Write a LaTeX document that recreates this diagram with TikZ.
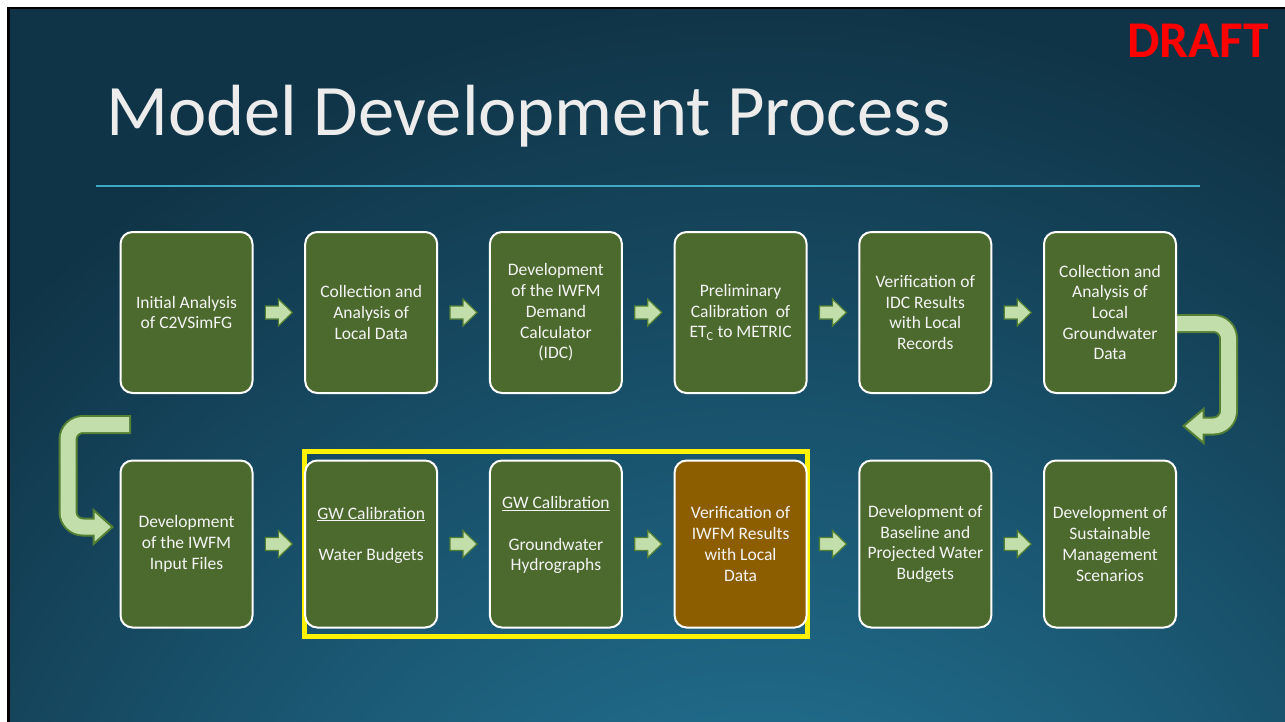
\documentclass[tikz,border=0pt]{standalone}
\usepackage{fontspec}
\setmainfont{Carlito}
\usetikzlibrary{calc,fit}

\definecolor{slidedark}{RGB}{16,52,71}
\definecolor{slidelight}{RGB}{38,128,164}
\definecolor{boxgreen}{RGB}{76,106,46}
\definecolor{boxbrown}{RGB}{140,94,0}
\definecolor{arrowfill}{RGB}{194,222,171}
\definecolor{arrowline}{RGB}{84,128,52}
\definecolor{ruleteal}{RGB}{64,168,194}
\definecolor{titlegray}{RGB}{236,236,236}
\definecolor{draftred}{RGB}{255,0,0}
\definecolor{boxtext}{RGB}{244,244,244}

\pgfdeclarelayer{bg}
\pgfdeclarelayer{back}
\pgfsetlayers{bg,back,main}

\tikzset{
  stepbox/.style={draw=white, line width=2pt, rounded corners=12pt, fill=boxgreen,
    minimum width=132pt, minimum height=161pt, text=boxtext, align=center,
    font=\fontsize{17.5}{20.7}\selectfont, inner sep=0pt},
  lowbox/.style={stepbox, minimum height=167pt},
  nextarrow/.style={fill=arrowfill, draw=arrowline, line width=1.2pt, line join=miter},
  bendedge/.style={arrowline, line width=19pt, rounded corners=15pt},
  bendbody/.style={arrowfill, line width=15pt, rounded corners=15pt},
  bendhead/.style={fill=arrowfill, draw=arrowline, line width=2pt, line join=miter},
}

\begin{document}
\begin{tikzpicture}[x=1pt, y=-1pt]
\useasboundingbox (0,0) rectangle (1285,721);

% slide background and frame
\begin{pgfonlayer}{bg}
  \fill[white] (0,0) rectangle (1285,721);
  \begin{scope}
    \clip (9,8) rectangle (1285,721);
    \fill[slidedark] (9,8) rectangle (1285,721);
    \shade[inner color=slidelight, outer color=slidedark] (760,1050) circle[radius=1050pt];
  \end{scope}
  \draw[black, line width=2.5pt] (8.5,730) -- (8.5,8.2) -- (1290,8.2);
\end{pgfonlayer}

% heading
\node[anchor=base west, inner sep=0pt, text=titlegray,
      font=\fontsize{72.5}{80}\selectfont] (title) at (106,135) {Model Development Process};
\node[anchor=base east, inner sep=0pt, text=draftred,
      font=\bfseries\fontsize{51.5}{56}\selectfont] (draft) at (1269,57) {DRAFT};
\coordinate (ruleL) at (96,185.5);
\coordinate (ruleR) at (1200,185.5);
\draw[ruleteal, line width=2pt] (ruleL) -- (ruleR);

% top row
\node[stepbox] (b1) at (186.5,312.5) {Initial Analysis\\of C2VSimFG};
\node[stepbox] (b2) at (371.2,312.5) {Collection and\\Analysis of\\Local Data};
\node[stepbox] (b3) at (555.9,312.5) {Development\\of the IWFM\\Demand\\Calculator\\(IDC)};
\node[stepbox] (b4) at (740.6,312.5) {Preliminary\\Calibration\ \ of\\ET\textsubscript{C} to METRIC};
\node[stepbox] (b5) at (925.3,312.5) {Verification of\\IDC Results\\with Local\\Records};
\node[stepbox] (b6) at (1110.0,312.5) {Collection and\\Analysis of\\Local\\Groundwater\\Data};

% bottom row
\node[lowbox] (b7)  at (186.5,544) {Development\\of the IWFM\\Input Files};
\node[lowbox] (b8)  at (371.2,544) {\underline{GW Calibration}\\\mbox{}\\Water Budgets\\\mbox{}};
\node[lowbox] (b9)  at (555.9,544) {\underline{GW Calibration}\\\mbox{}\\Groundwater\\Hydrographs\\\mbox{}};
\node[lowbox, fill=boxbrown] (b10) at (740.6,544) {Verification of\\IWFM Results\\with Local\\Data};
\node[lowbox] (b11) at (925.3,544) {Development of\\Baseline and\\Projected Water\\Budgets};
\node[lowbox] (b12) at (1110.0,544) {Development of\\Sustainable\\Management\\Scenarios};

% block arrows between neighbouring boxes
\foreach \a/\b in {b1/b2, b2/b3, b3/b4, b4/b5, b5/b6,
                   b7/b8, b8/b9, b9/b10, b10/b11, b11/b12}{
  \coordinate (\a to\b) at ($(\a.east)!0.5!(\b.west)$);
  \filldraw[nextarrow] (\a to\b) ++(-13.5,-6.5) -- ++(13,0) -- ++(0,-7)
    -- ++(14,13.5) -- ++(-14,13.5) -- ++(0,-7) -- ++(-13,0) -- cycle;
}

\begin{pgfonlayer}{back}
  % highlight frame around the groundwater calibration steps
  \node[draw=yellow, line width=5pt, fit=(b8)(b10), inner xsep=0pt, inner ysep=8pt] (focus) {};

  % bent arrow from the end of the top row down to the right
  \coordinate (rA) at ($(b6.east)+(-6,11)$);
  \coordinate (rT) at ($(b6.east)+(6.5,113.5)$);
  \draw[bendedge] (rA) -| ($(rT)+(45,0)$) -- ($(rT)+(19,0)$);
  \filldraw[bendhead] (rT) -- ++(20,-17) -- ++(0,34) -- cycle;
  \draw[bendbody] (rA) -| ($(rT)+(45,0)$) -- ($(rT)+(13,0)$);

  % bent arrow leading into the start of the bottom row
  \coordinate (lA) at ($(b7.north west)+(10.5,-35)$);
  \coordinate (lT) at ($(b7.west)+(-7,-17)$);
  \draw[bendedge] ($(lA)+(1,0)$) -| ($(lT)+(-44.5,0)$) -- ($(lT)+(-19,0)$);
  \filldraw[bendhead] (lT) -- ++(-19,-17) -- ++(0,34) -- cycle;
  \draw[bendbody] ($(lA)+(-1,0)$) -| ($(lT)+(-44.5,0)$) -- ($(lT)+(-13,0)$);
\end{pgfonlayer}

\end{tikzpicture}
\end{document}
